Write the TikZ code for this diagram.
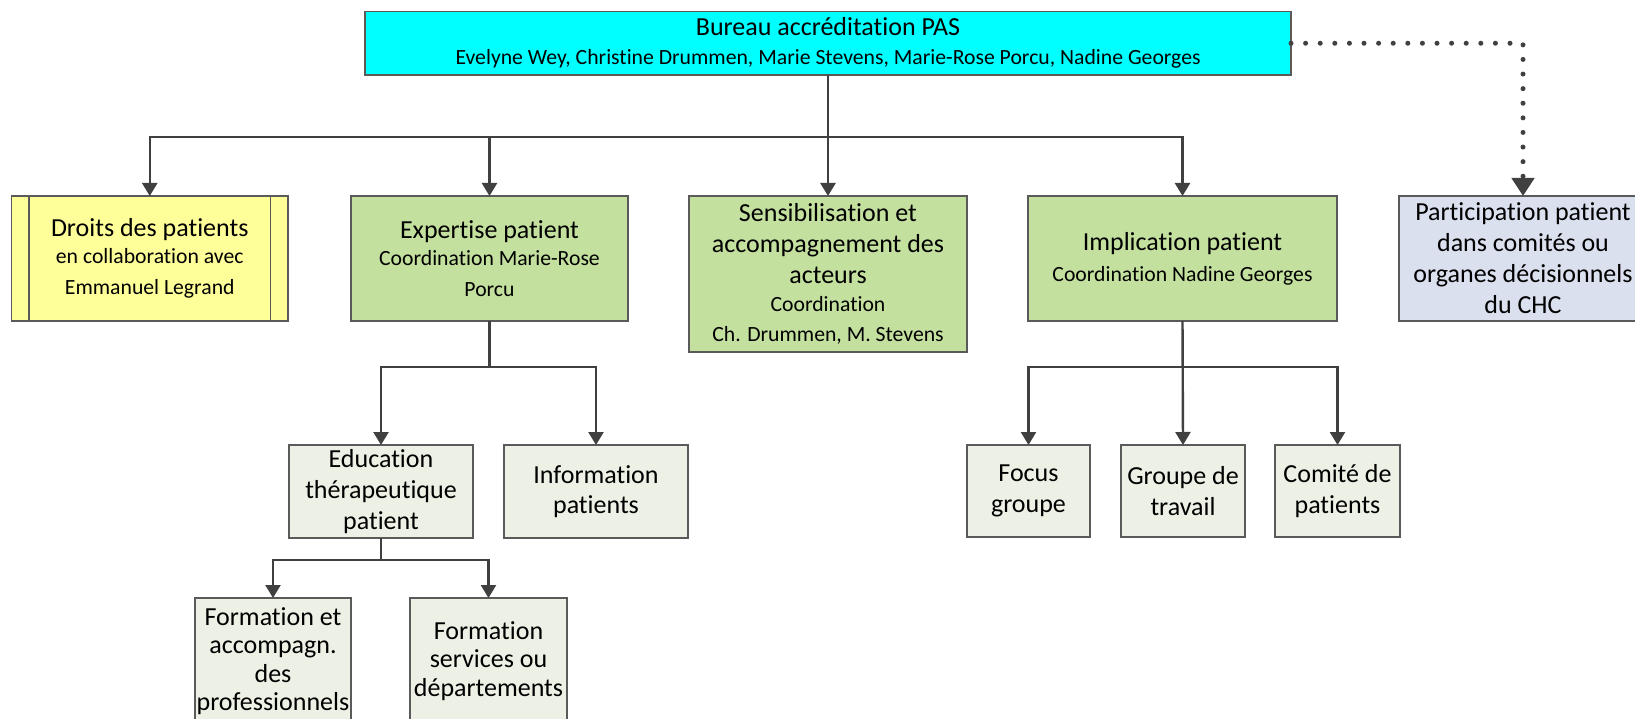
\documentclass[tikz,border=0pt]{standalone}
\usepackage{fontspec}
\setmainfont{Carlito}[Ligatures=NoCommon]
\usetikzlibrary{arrows.meta}
\definecolor{cyanbox}{HTML}{00FFFF}
\definecolor{yellowbox}{HTML}{FFFF99}
\definecolor{greenbox}{HTML}{C4E09E}
\definecolor{lavbox}{HTML}{DBE0EE}
\definecolor{lightbox}{HTML}{EDF0E4}
\definecolor{boxborder}{HTML}{5A5A5A}
\definecolor{linecol}{HTML}{404040}
\newcommand\smalltxt[1]{{\fontsize{21.7pt}{31pt}\selectfont #1}}
\begin{document}
\begin{tikzpicture}[x=1pt,y=-1pt,
  box/.style={draw=boxborder, line width=1.5pt, inner sep=0pt, outer sep=0pt,
    align=center, text=black, font=\fontsize{26pt}{31pt}\selectfont},
  conn/.style={draw=linecol, line width=2.4pt, -{Triangle[width=15pt,length=13pt]}},
  bar/.style={draw=linecol, line width=2.4pt},
  dotconn/.style={draw=linecol, line width=5pt, line cap=round,
    dash pattern=on 0pt off 14.6pt, -{Triangle[width=22pt,length=18pt]}},
]
\useasboundingbox (0,0) rectangle (1635,719);

% top
\node[box, fill=cyanbox, minimum width=926pt, minimum height=63.5pt] (top) at (828,43.25)
  {Bureau accréditation PAS\\[-2pt]\smalltxt{Evelyne Wey, Christine Drummen, Marie Stevens, Marie-Rose Porcu, Nadine Georges}};

% level 1
\node[box, fill=yellowbox, minimum width=276.5pt, minimum height=125pt] (droits) at (149.75,258.5)
  {Droits des patients\\[-4pt]\smalltxt{en collaboration avec}\\\smalltxt{Emmanuel Legrand}};
\draw[boxborder, line width=1.5pt] ([xshift=17.5pt]droits.north west) -- ([xshift=17.5pt]droits.south west);
\draw[boxborder, line width=1.5pt] ([xshift=-17.5pt]droits.north east) -- ([xshift=-17.5pt]droits.south east);

\node[box, fill=greenbox, minimum width=277pt, minimum height=125pt] (expertise) at (489.5,258.5)
  {Expertise patient\\[-4pt]\smalltxt{Coordination Marie-Rose}\\\smalltxt{Porcu}};

\node[box, fill=greenbox, minimum width=278pt, minimum height=156pt] (sensib) at (828,274)
  {Sensibilisation et\\accompagnement des\\acteurs\\[-3pt]\smalltxt{Coordination}\\[-1pt]\smalltxt{Ch. Drummen, M. Stevens}};

\node[box, fill=greenbox, minimum width=309pt, minimum height=125pt] (impl) at (1182.5,258.5)
  {Implication patient\\\smalltxt{Coordination Nadine Georges}};

\node[box, fill=lavbox, minimum width=248pt, minimum height=125pt] (part) at (1523,258.5)
  {Participation patient\\dans comités ou\\organes décisionnels\\du CHC};

% level 2
\node[box, fill=lightbox, minimum width=184pt, minimum height=93pt] (edu) at (381,491.5)
  {Education\\thérapeutique\\patient};
\node[box, fill=lightbox, minimum width=184pt, minimum height=93pt] (info) at (596,491.5)
  {Information\\[-1pt]patients};

\node[box, fill=lightbox, minimum width=123pt, minimum height=92pt] (focus) at (1028.5,491)
  {Focus\\groupe};
\node[box, fill=lightbox, minimum width=124pt, minimum height=92pt] (groupe) at (1183,491)
  {Groupe de\\travail};
\node[box, fill=lightbox, minimum width=125pt, minimum height=92pt] (comite) at (1337.5,491)
  {Comité de\\patients};

% level 3
\node[box, fill=lightbox, minimum width=156pt, minimum height=126pt] (form1) at (273,661)
  {Formation et\\[-2.5pt]accompagn.\\[-2.5pt]des\\[-2.5pt]professionnels};
\node[box, fill=lightbox, minimum width=157pt, minimum height=126pt] (form2) at (488.5,661)
  {Formation\\[-2.5pt]services ou\\[-2.5pt]départements};

% connectors
\coordinate (b1) at (828,137);
\draw[conn] (top.south) -- (sensib.north);
\draw[conn] (b1) -| (droits.north);
\draw[conn] (b1) -| (expertise.north);
\draw[conn] (b1) -| (impl.north);

\coordinate (b2) at (489.5,367);
\draw[bar] (expertise.south) -- (b2);
\draw[conn] (b2) -| (edu.north);
\draw[conn] (b2) -| (info.north);

\coordinate (b3) at (381,560);
\draw[bar] (edu.south) -- (b3);
\draw[conn] (b3) -| (form1.north);
\draw[conn] (b3) -| (form2.north);

\coordinate (b4) at (1182.5,367);
\draw[conn] (impl.south) -- (groupe.north);
\draw[conn] (b4) -| (focus.north);
\draw[conn] (b4) -| (comite.north);

\draw[dotconn] (top.east) -| (part.north);
\end{tikzpicture}
\end{document}
